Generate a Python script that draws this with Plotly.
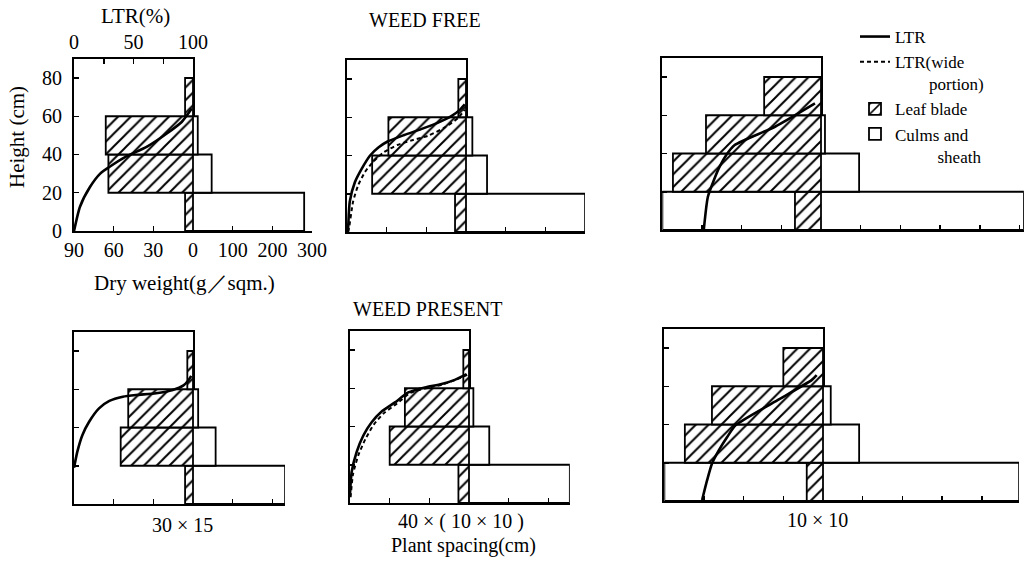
import plotly.graph_objects as go

W, H = 1027, 561

# ---------------- data ----------------
heights = [10, 30, 50, 70]            # mid-points of height classes (cm): 0-20, 20-40, 40-60, 60-80
height_ticks = [0, 20, 40, 60, 80]

# dry weight (g/sqm) of leaf blade per height class, panels:
# top row WEED FREE: 30x15, 40x(10x10), 10x10 ; bottom row WEED PRESENT: same order
leaf_wf_30x15 = [6, 64, 66, 6]
leaf_wf_40x10 = [8.3, 71, 58.7, 5.8]
leaf_wf_10x10 = [19.7, 112, 87, 43]
leaf_wp_30x15 = [6, 54.7, 49, 4.3]
leaf_wp_40x10 = [8, 60, 48.5, 4.3]
leaf_wp_10x10 = [12.3, 104.5, 84, 30]

# dry weight (g/sqm) of culms and sheath per height class
culm_wf_30x15 = [280, 47, 12, None]
culm_wf_40x10 = [300, 53, 16, None]
culm_wf_10x10 = [511, 96, 10, None]
culm_wp_30x15 = [232, 57, 13, None]
culm_wp_40x10 = [254, 51, 11, None]
culm_wp_10x10 = [494, 91, 19.5, None]

# open box drawn on the leaf side of the 0-20 cm class (10x10 panels)
open_wf_10x10 = [120, None, None, None]
open_wp_10x10 = [120, None, None, None]

# LTR curves: (height cm, LTR %)
ltr_h_wf_30x15 = [0, 12.7, 23, 30, 33.6, 39, 44, 51, 57, 64]
ltr_v_wf_30x15 = [0, 5, 13.4, 22, 30, 44, 61, 78, 90.5, 99]
ltr_h_wf_40x10 = [0, 2, 15.9, 26, 33, 40, 44.3, 47.2, 50.7, 53.8, 57.2, 60.7, 64, 66.7]
ltr_v_wf_40x10 = [0.5, 0.9, 2.3, 6.6, 12.3, 19.4, 26.6, 33.7, 48, 62.3, 76.6, 88, 95, 99]
ltrw_h_wf_40x10 = [0, 2, 15.9, 24.5, 31.4, 36.9, 41.7, 45.5, 47.8, 50.3, 54.7, 59.8, 64]
ltrw_v_wf_40x10 = [1, 1.7, 5.1, 9.4, 15.1, 22.3, 30.9, 42.3, 53.7, 68, 82.3, 93.7, 99]
ltr_h_wf_10x10 = [0, 17.4, 26.1, 33.1, 39.2, 44.4, 54, 66.2]
ltr_v_wf_10x10 = [26.1, 28.7, 32.5, 36.1, 40.3, 45.6, 71, 96.2]
ltr_h_wp_30x15 = [19, 27.4, 36, 43, 50, 53.9, 56.1, 57, 57.9, 59.6, 62, 64.6, 67]
ltr_v_wp_30x15 = [0, 2.8, 7, 12.7, 21, 29.7, 41, 52, 69, 83, 92, 96, 98.5]
ltr_h_wp_40x10 = [5, 16.3, 26.7, 35.3, 42.2, 47.8, 52.6, 57.8, 60.4, 62.2, 64.4, 67.4]
ltr_v_wp_40x10 = [0, 1.4, 5.6, 11.2, 18.2, 26.6, 37.8, 49, 63, 77, 88, 98]
ltrw_h_wp_40x10 = [3, 15, 25, 33.5, 41, 47, 52, 57.5, 60, 62, 64.5, 67]
ltrw_v_wp_40x10 = [0.5, 2.5, 7, 13, 20, 28.5, 39.5, 50.5, 64, 78, 89, 98.5]
ltr_h_wp_10x10 = [0.5, 11, 19.7, 26.6, 33.6, 39.7, 51.8, 63.2, 65.8]
ltr_v_wp_10x10 = [23.8, 27, 30.1, 34.4, 39.7, 45, 69.4, 92.8, 96]

leaf_ticks = [0, 30, 60, 90]
leaf_ticktext = ["0", "30", "60", "90"]
culm_ticks = [100, 200, 300, 400, 500]
culm_ticktext = ["100", "200", "300", "400", "500"]
ltr_ticks = [0, 25, 50, 75, 100]
ltr_ticktext = ["0", "", "50", "", "100"]

panels = [
    dict(leaf=leaf_wf_30x15, culm=culm_wf_30x15, open=None,
         ltr=(ltr_h_wf_30x15, ltr_v_wf_30x15), ltrw=None),
    dict(leaf=leaf_wf_40x10, culm=culm_wf_40x10, open=None,
         ltr=(ltr_h_wf_40x10, ltr_v_wf_40x10), ltrw=(ltrw_h_wf_40x10, ltrw_v_wf_40x10)),
    dict(leaf=leaf_wf_10x10, culm=culm_wf_10x10, open=open_wf_10x10,
         ltr=(ltr_h_wf_10x10, ltr_v_wf_10x10), ltrw=None),
    dict(leaf=leaf_wp_30x15, culm=culm_wp_30x15, open=None,
         ltr=(ltr_h_wp_30x15, ltr_v_wp_30x15), ltrw=None),
    dict(leaf=leaf_wp_40x10, culm=culm_wp_40x10, open=None,
         ltr=(ltr_h_wp_40x10, ltr_v_wp_40x10), ltrw=(ltrw_h_wp_40x10, ltrw_v_wp_40x10)),
    dict(leaf=leaf_wp_10x10, culm=culm_wp_10x10, open=open_wp_10x10,
         ltr=(ltr_h_wp_10x10, ltr_v_wp_10x10), ltrw=None),
]

# ---------------- layout geometry (pixels) ----------------
LEAF_PX = 1.322   # px per g (leaf side)
CULM_PX = 0.397   # px per g (culm side)
Y_PX = 1.9125     # px per cm
geom = [
    dict(right=193, zero=231, ext=90, cmax=300),
    dict(right=466, zero=232, ext=90, cmax=300),
    dict(right=821, zero=230, ext=120, cmax=511),
    dict(right=193, zero=504, ext=90, cmax=232),
    dict(right=469, zero=503, ext=90, cmax=254),
    dict(right=823, zero=501, ext=120, cmax=494),
]

FONT = "Liberation Serif"
LW = 2

fig = go.Figure()
layout = {}


def nm(p, k):
    return p if k == 1 else f"{p}{k}"


hatch = dict(shape="/", fgcolor="black", bgcolor="white", size=9, solidity=0.22)
first_leaf = True
first_culm = True
first_ltr = True
first_ltrw = True

for i, (pd, g) in enumerate(zip(panels, geom)):
    kl, kc, kt, ky = 3 * i + 1, 3 * i + 2, 3 * i + 3, i + 1
    xl, xc, xt, yy = nm("x", kl), nm("x", kc), nm("x", kt), nm("y", ky)

    if pd["open"] is not None:
        fig.add_trace(go.Bar(y=heights, x=pd["open"], orientation="h", width=20,
                             marker=dict(color="white", line=dict(color="black", width=1.8)),
                             xaxis=xl, yaxis=yy, showlegend=False, hoverinfo="skip"))
    fig.add_trace(go.Bar(y=heights, x=pd["leaf"], orientation="h", width=20,
                         name="Leaf blade", legendrank=3, showlegend=first_leaf,
                         marker=dict(color="white", pattern=hatch,
                                     line=dict(color="black", width=1.8)),
                         xaxis=xl, yaxis=yy))
    first_leaf = False
    fig.add_trace(go.Bar(y=heights, x=pd["culm"], orientation="h", width=20,
                         name="Culms and<br>\u00a0\u00a0\u00a0\u00a0\u00a0\u00a0\u00a0\u00a0\u00a0\u00a0sheath",
                         legendrank=4, showlegend=first_culm,
                         marker=dict(color="white", line=dict(color="black", width=1.8)),
                         xaxis=xc, yaxis=yy))
    first_culm = False
    fig.add_trace(go.Scatter(x=pd["ltr"][1], y=pd["ltr"][0], mode="lines",
                             line=dict(color="black", width=2.6, shape="spline", smoothing=0.6),
                             name="LTR", legendrank=1, showlegend=first_ltr,
                             xaxis=xt, yaxis=yy))
    first_ltr = False
    if pd["ltrw"] is not None:
        fig.add_trace(go.Scatter(x=pd["ltrw"][1], y=pd["ltrw"][0], mode="lines",
                                 line=dict(color="black", width=2, dash="4px,3px",
                                           shape="spline", smoothing=0.6),
                                 name="LTR(wide<br>\u00a0\u00a0\u00a0\u00a0\u00a0\u00a0\u00a0\u00a0portion)",
                                 legendrank=2, showlegend=first_ltrw,
                                 xaxis=xt, yaxis=yy))
        first_ltrw = False

    R = g["right"]
    L = R - g["ext"] * LEAF_PX
    C = R + g["cmax"] * CULM_PX
    y0 = g["zero"]
    ytop = y0 - 90 * Y_PX
    lab = (i == 0)

    axcommon = dict(showgrid=False, zeroline=False, linecolor="black", linewidth=LW,
                    ticks="inside", ticklen=5, tickwidth=1.5, tickcolor="black",
                    automargin=False,
                    tickfont=dict(size=20, family=FONT, color="black"))

    layout[nm("xaxis", kl)] = dict(axcommon, domain=[L / W, R / W], range=[g["ext"], 0],
                                   anchor=yy, showline=True, mirror=True,
                                   tickvals=leaf_ticks, ticktext=leaf_ticktext,
                                   showticklabels=lab)
    layout[nm("xaxis", kc)] = dict(axcommon, domain=[R / W, min(C / W, 1.0)], range=[0, g["cmax"]],
                                   anchor=yy, showline=True, mirror=False,
                                   tickvals=culm_ticks, ticktext=culm_ticktext,
                                   showticklabels=lab)
    if lab:
        layout[nm("xaxis", kt)] = dict(axcommon, overlaying=xl, anchor=yy, side="top",
                                       range=[0, 100], showline=True,
                                       tickvals=ltr_ticks, ticktext=ltr_ticktext)
    else:
        layout[nm("xaxis", kt)] = dict(overlaying=xl, anchor=yy, side="top",
                                       range=[0, 100], visible=False, automargin=False)
    layout[nm("yaxis", ky)] = dict(axcommon, domain=[(H - y0) / H, (H - ytop) / H],
                                   range=[0, 90], anchor=xl, showline=True, mirror=True,
                                   tickvals=height_ticks, showticklabels=lab, ticklabelstandoff=6)

annots = [
    dict(text="LTR(%)", x=135 / W, y=1 - 16 / H, size=21),
    dict(text="Height (cm)", x=17 / W, y=1 - 137 / H, size=21, angle=-90),
    dict(text="Dry weight(g／sqm.)", x=184 / W, y=1 - 283 / H, size=21),
    dict(text="WEED FREE", x=425 / W, y=1 - 20 / H, size=20),
    dict(text="WEED PRESENT", x=427 / W, y=1 - 309 / H, size=20),
    dict(text="30 × 15", x=182 / W, y=1 - 525 / H, size=20),
    dict(text="40 × ( 10 × 10 )", x=461 / W, y=1 - 521 / H, size=20),
    dict(text="Plant spacing(cm)", x=463 / W, y=1 - 545 / H, size=20),
    dict(text="10 × 10", x=817 / W, y=1 - 520 / H, size=20),
]
annotations = [dict(text=a["text"], x=a["x"], y=a["y"], xref="paper", yref="paper",
                    showarrow=False, xanchor="center", yanchor="middle",
                    textangle=a.get("angle", 0),
                    font=dict(size=a["size"], family=FONT, color="black"))
               for a in annots]

fig.update_layout(
    template="none",
    width=W, height=H, autosize=False,
    margin=dict(l=0, r=0, t=0, b=0, autoexpand=False),
    paper_bgcolor="white", plot_bgcolor="white",
    barmode="overlay",
    font=dict(family=FONT, color="black", size=20),
    showlegend=True,
    legend=dict(x=855 / W, y=1 - 19 / H, xanchor="left", yanchor="top",
                bgcolor="rgba(0,0,0,0)", font=dict(size=17, family=FONT, color="black"),
                tracegroupgap=0, itemwidth=30, valign="top"),
    annotations=annotations,
    **layout,
)

fig.write_html("out.html",
               config={"displayModeBar": False, "staticPlot": True},
               post_script="document.body.style.margin='0';document.body.style.overflow='hidden';")
